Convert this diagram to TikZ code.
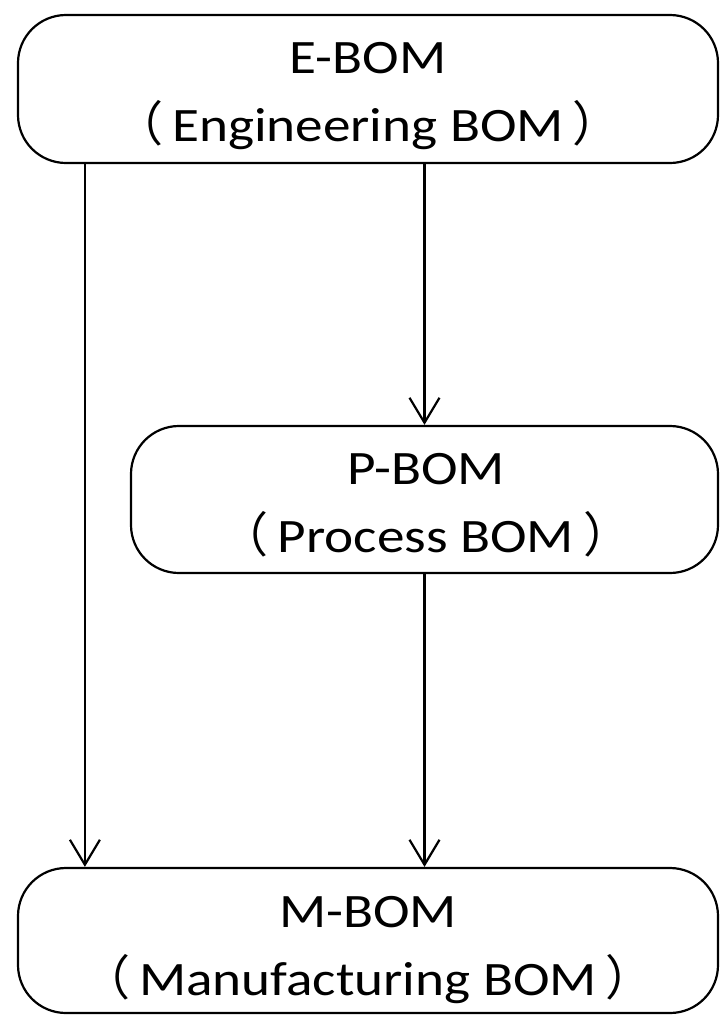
\documentclass[tikz,border=0pt]{standalone}
\usepackage{fontspec}
\setmainfont{Carlito}[FakeStretch=1.15]
\newfontfamily\cjkfont{Noto Sans CJK SC}
\usetikzlibrary{arrows.meta,calc}
\newcommand\lparen{{\cjkfont （}\kern9pt}
\newcommand\rparen{\kern9pt{\cjkfont ）}}
\begin{document}
\begin{tikzpicture}[x=1pt,y=-1pt,
  bomblock/.style={draw,line width=2.2pt,rounded corners=48pt,inner sep=0pt,fill=white},
  bomtext/.style={anchor=base,inner sep=0pt,font=\fontsize{48}{58}\selectfont},
  flow/.style={line width=2.2pt,-{Straight Barb[length=25pt,width=30pt,line width=2.2pt]}}]
\useasboundingbox[fill=white] (0,0) rectangle (721,1015);

% the three BOM blocks
\node[bomblock,minimum width=700pt,minimum height=148pt] (ebom) at (368,89) {};
\node[bomblock,minimum width=587pt,minimum height=147pt] (pbom) at (424.5,499.5) {};
\node[bomblock,minimum width=700pt,minimum height=145pt] (mbom) at (368,940.5) {};

% block captions
\node[bomtext] (ebom1) at (368,73) {E-BOM};
\node[bomtext] (ebom2) at (368,141) {\lparen Engineering BOM\rparen};
\node[bomtext] (pbom1) at (426,484) {P-BOM};
\node[bomtext] (pbom2) at (426,552) {\lparen Process BOM\rparen};
\node[bomtext] (mbom1) at (368,927) {M-BOM};
\node[bomtext] (mbom2) at (368,995) {\lparen Manufacturing BOM\rparen};

% flows between the blocks
\draw[flow] ($(ebom.south west)+(68,0)$) -- ($(mbom.north west)+(68,0)$);
\draw[flow] (ebom.south -| pbom.north) -- (pbom.north);
\draw[flow] (pbom.south) -- (pbom.south |- mbom.north);
\end{tikzpicture}
\end{document}
